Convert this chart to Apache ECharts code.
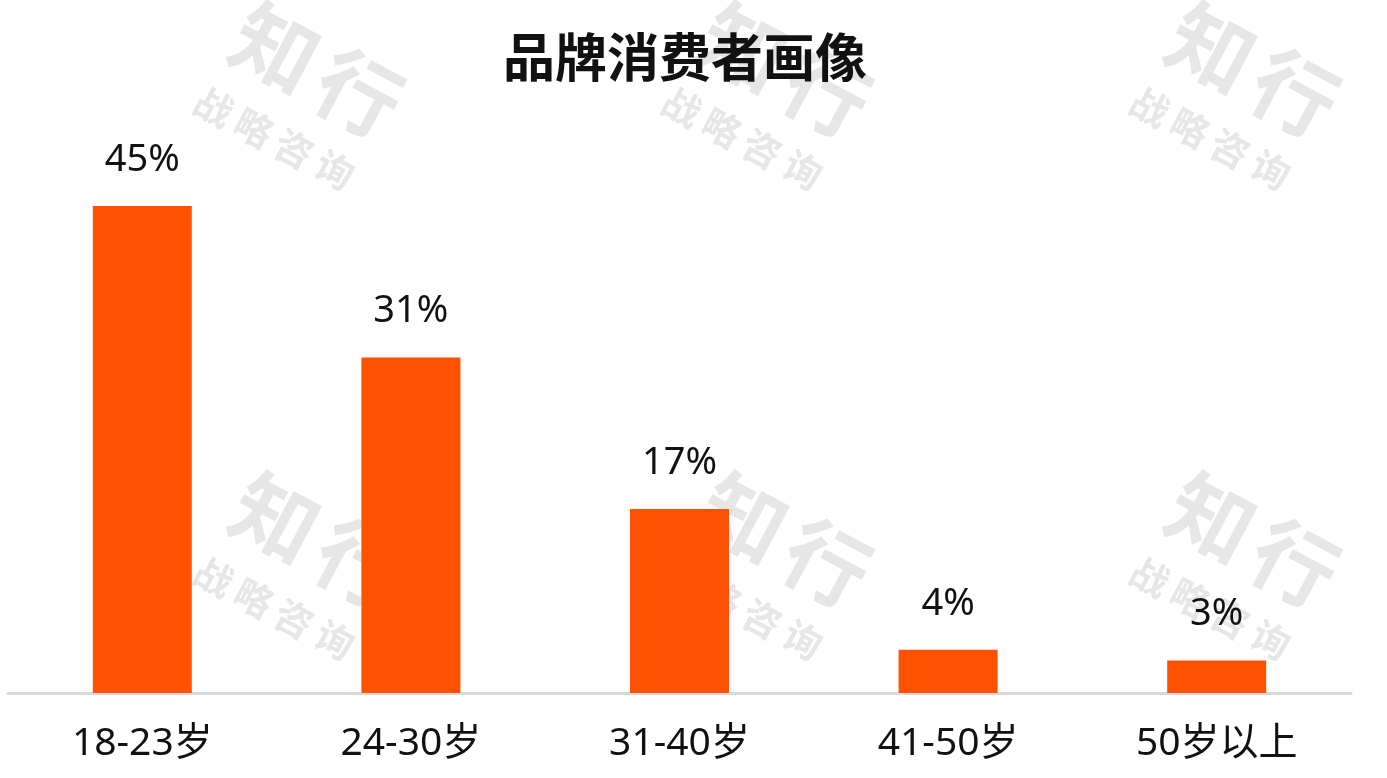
<!DOCTYPE html>
<html>
<head>
<meta charset="utf-8">
<script src="https://cdn.jsdelivr.net/npm/echarts@6/dist/echarts.min.js"></script>
<style>html,body{margin:0;padding:0;background:#fff;}#c{width:1387px;height:778px;}</style>
</head>
<body>
<div id="c"></div>
<script>
const title = '品牌消费者画像';
const categories = ['18-23岁', '24-30岁', '31-40岁', '41-50岁', '50岁以上'];
const values = [45, 31, 17, 4, 3];
const watermarkBig = ['知', '行'];
const watermarkSmall = ['战', '略', '咨', '询'];

const FONT = '"Noto Sans", "Noto Sans CJK SC", sans-serif';
const chart = echarts.init(document.getElementById('c'));

// watermark graphics
const wmOrigins = [[272, 55], [740, 55], [1208, 55], [272, 525], [740, 525], [1208, 525]];
const bigOffsets = [[0, 0], [83, 45]];
const smallOffsets = [[-60, 55], [-20, 76], [20, 97], [61, 118]];
const rot = -28 * Math.PI / 180;
const graphics = [];
wmOrigins.forEach(o => {
  watermarkBig.forEach((ch, i) => {
    graphics.push({type: 'text', x: o[0] + bigOffsets[i][0], y: o[1] + bigOffsets[i][1], rotation: rot, z: -10,
      style: {text: ch, font: 'bold 84px ' + FONT, fill: '#e6e6e6', align: 'center', verticalAlign: 'middle'}});
  });
  watermarkSmall.forEach((ch, i) => {
    graphics.push({type: 'text', x: o[0] + smallOffsets[i][0], y: o[1] + smallOffsets[i][1], rotation: rot, z: -10,
      style: {text: ch, font: 'bold 38px ' + FONT, fill: '#e6e6e6', align: 'center', verticalAlign: 'middle'}});
  });
});

chart.setOption({
  backgroundColor: '#fff',
  animation: false,
  title: {
    text: title, left: 680, textAlign: 'center', top: 31,
    textStyle: {fontFamily: FONT, fontSize: 52, fontWeight: 'bold', color: '#111'}
  },
  graphic: graphics,
  grid: {left: 8, right: 36, top: 152, bottom: 85, containLabel: false},
  xAxis: {
    type: 'category', data: categories,
    axisLine: {lineStyle: {color: '#d9d9d9', width: 3}},
    axisTick: {show: false},
    axisLabel: {fontFamily: FONT, fontSize: 39, color: '#111', margin: 31}
  },
  yAxis: {type: 'value', min: 0, max: 50, show: false, splitLine: {show: false}},
  series: [{
    type: 'bar', data: values, barWidth: 99, z: 5,
    itemStyle: {color: '#FF5200'},
    label: {show: true, position: 'top', distance: 27, formatter: '{c}%',
      fontFamily: FONT, fontSize: 38, color: '#111'}
  }]
});
</script>
</body>
</html>
